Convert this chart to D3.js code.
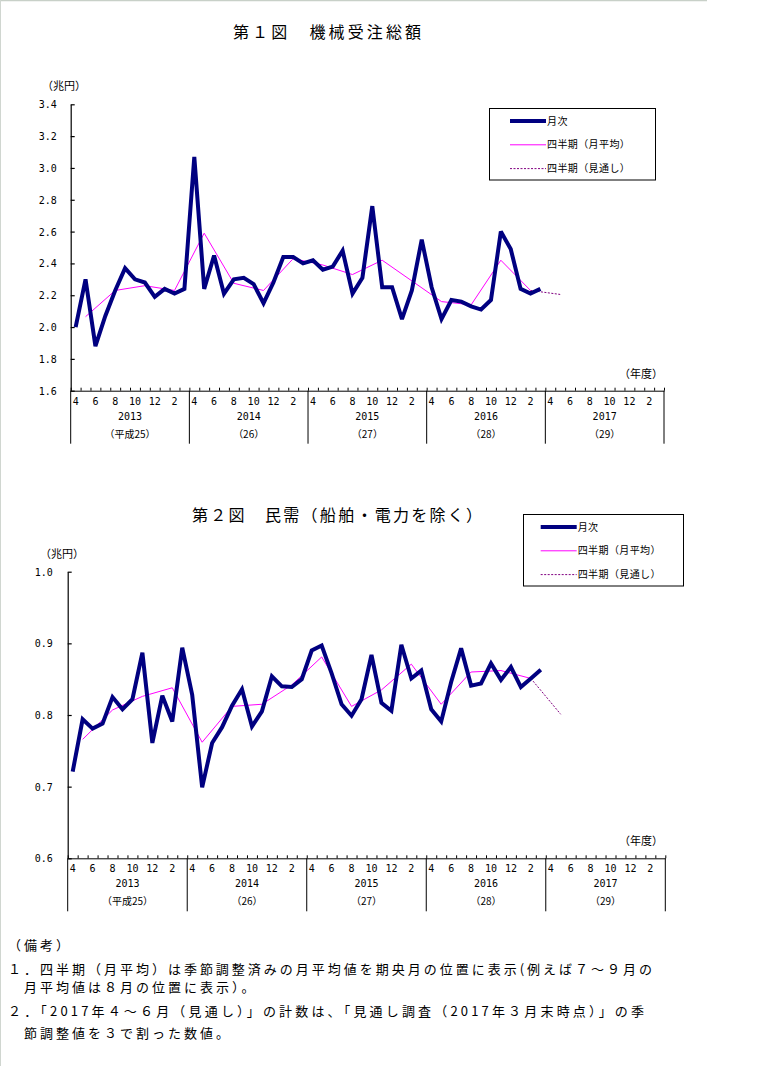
<!DOCTYPE html>
<html><head><meta charset="utf-8">
<script src="https://cdn.jsdelivr.net/npm/d3@7/dist/d3.min.js"></script>
<style>
body{margin:0;background:#fff;}
svg{display:block;}
text{font-family:"Noto Sans CJK JP","Noto Sans",sans-serif;fill:#000;}
.num{font-family:"DejaVu Sans Mono","Liberation Mono",monospace;}
</style></head><body>
<svg id="c" width="782" height="1066"></svg>
<script>
// ---------------- data ----------------
const monthLabels = ["4","6","8","10","12","2"];
const monthLabelIdx = [0,2,4,6,8,10];
const fiscalYears = ["2013","2014","2015","2016","2017"];
const eraLabels = ["（平成25）","（26）","（27）","（28）","（29）"];

// Chart 1: 機械受注総額 (兆円), monthly Apr-2013 .. Mar-2017
const total_monthly = [2.00,2.30,1.88,2.07,2.23,2.37,2.30,2.28,2.19,2.24,2.21,2.24,
  3.07,2.24,2.45,2.21,2.30,2.31,2.27,2.15,2.28,2.44,2.44,2.40,
  2.42,2.36,2.38,2.48,2.21,2.31,2.76,2.25,2.25,2.05,2.23,2.55,
  2.25,2.05,2.17,2.16,2.13,2.11,2.17,2.60,2.49,2.24,2.21,2.24];
// quarterly (monthly average), plotted at central month index 1,4,7,...
const total_quarterly = [2.065,2.23,2.26,2.23,2.59,2.275,2.23,2.43,2.39,2.33,2.42,2.29,2.16,2.14,2.42,2.23];
const total_forecast = [2.23,2.205];   // Jan-Mar 2017 avg -> Apr-Jun 2017 forecast
const total_ticks = [1.6,1.8,2.0,2.2,2.4,2.6,2.8,3.0,3.2,3.4];

// Chart 2: 民需（船舶・電力を除く） (兆円)
const private_monthly = [0.721,0.794,0.781,0.788,0.825,0.808,0.822,0.887,0.761,0.827,0.791,0.894,
  0.828,0.699,0.761,0.783,0.813,0.836,0.784,0.805,0.854,0.840,0.839,0.850,
  0.890,0.897,0.858,0.815,0.799,0.822,0.884,0.817,0.806,0.898,0.851,0.862,
  0.808,0.791,0.846,0.893,0.841,0.844,0.872,0.849,0.867,0.839,0.851,0.863];
const private_quarterly = [0.766,0.807,0.826,0.838,0.762,0.812,0.815,0.842,0.881,0.812,0.835,0.871,0.815,0.860,0.862,0.851];
const private_forecast = [0.851,0.801];
const private_ticks = [0.6,0.7,0.8,0.9,1.0];

const legendLabels = ["月次","四半期（月平均）","四半期（見通し）"];

// ---------------- drawing ----------------
const svg = d3.select("#c");
svg.append("rect").attr("width",782).attr("height",1066).attr("fill","#fff");
svg.append("line").attr("x1",0).attr("x2",707).attr("y1",0.5).attr("y2",0.5).attr("stroke","#c8d0c8").attr("stroke-width",1.5);
svg.append("line").attr("x1",0.5).attr("x2",0.5).attr("y1",0).attr("y2",1066).attr("stroke","#d0d6d0").attr("stroke-width",1);

function drawChart(cfg){
  const g = svg.append("g");
  const x = d3.scaleLinear().domain([0,60]).range([cfg.x0,cfg.x1]);
  const y = d3.scaleLinear().domain([cfg.ticks[0],cfg.ticks[cfg.ticks.length-1]]).range([cfg.yb,cfg.yt]);

  // y axis
  const ya = d3.axisLeft(y).tickValues(cfg.ticks).tickFormat(d3.format(".1f"))
    .tickSizeInner(-4).tickSizeOuter(0).tickPadding(cfg.tickPad);
  const yg = g.append("g").attr("transform",`translate(${cfg.x0},0)`).call(ya);
  yg.selectAll("path,line").attr("stroke","#000").attr("stroke-width",1.2);
  yg.selectAll("text").attr("class","num").style("font-size","10px").attr("dy","0.35em");

  // x axis: month ticks upward
  const xa = d3.axisBottom(x).tickValues(d3.range(0,61)).tickFormat("")
    .tickSizeInner(-3).tickSizeOuter(0);
  const xg = g.append("g").attr("transform",`translate(0,${cfg.yb})`).call(xa);
  xg.selectAll("path,line").attr("stroke","#000").attr("stroke-width",1);

  // year dividers
  g.selectAll(".div").data(d3.range(0,61,12)).join("line")
    .attr("x1",d=>x(d)).attr("x2",d=>x(d)).attr("y1",cfg.yb).attr("y2",cfg.yb+53)
    .attr("stroke","#000").attr("stroke-width",1);

  // month labels
  const ml = [];
  fiscalYears.forEach((fy,k)=>monthLabelIdx.forEach((m,j)=>ml.push({i:k*12+m,t:monthLabels[j]})));
  g.selectAll(".ml").data(ml).join("text").attr("class","num")
    .attr("x",d=>x(d.i+0.5)).attr("y",cfg.yb+14).attr("text-anchor","middle")
    .style("font-size","10px").text(d=>d.t);
  g.selectAll(".yl").data(fiscalYears).join("text").attr("class","num")
    .attr("x",(d,k)=>x(k*12+6)).attr("y",cfg.yb+29).attr("text-anchor","middle")
    .style("font-size","10px").text(d=>d);
  g.selectAll(".el").data(eraLabels).join("text")
    .attr("x",(d,k)=>x(k*12+6)).attr("y",cfg.yb+47).attr("text-anchor","middle")
    .style("font-size","10px").text(d=>d);

  // unit labels
  g.append("text").attr("x",cfg.unitX).attr("y",cfg.yt-14).style("font-size","11px").text("（兆円）");
  g.append("text").attr("x",663).attr("y",cfg.yb-13).attr("text-anchor","end").style("font-size","11px").text("（年度）");

  // quarterly line
  const qline = d3.line().x(d=>x(d.i+0.5)).y(d=>y(d.v));
  g.append("path").datum(cfg.quarterly.map((v,k)=>({i:1+3*k,v})))
    .attr("d",qline).attr("fill","none").attr("stroke","#ff00ff").attr("stroke-width",1);
  g.append("path").datum(cfg.forecast.map((v,k)=>({i:46+3*k,v})))
    .attr("d",qline).attr("fill","none").attr("stroke","#800080").attr("stroke-width",1).attr("stroke-dasharray","2,1.5");
  // monthly
  g.append("path").datum(cfg.monthly.map((v,i)=>({i,v})))
    .attr("d",qline).attr("fill","none").attr("stroke","#000080").attr("stroke-width",4).attr("stroke-linejoin","miter").attr("stroke-miterlimit",3);

  // legend
  const L = cfg.legend;
  const lg = g.append("g");
  lg.append("rect").attr("x",L.x).attr("y",L.y).attr("width",L.w).attr("height",L.h)
    .attr("fill","#fff").attr("stroke","#000").attr("stroke-width",1);
  const styles = [{c:"#000080",w:4,d:null},{c:"#ff00ff",w:1,d:null},{c:"#800080",w:1,d:"2,1.5"}];
  legendLabels.forEach((t,k)=>{
    const yy = L.y+12.5+k*23.8;
    lg.append("line").attr("x1",L.lx).attr("x2",L.lx+36).attr("y1",yy).attr("y2",yy)
      .attr("stroke",styles[k].c).attr("stroke-width",styles[k].w).attr("stroke-dasharray",styles[k].d);
    lg.append("text").attr("x",L.lx+37).attr("y",yy).attr("dy","0.36em").style("font-size","10px")
      .style("letter-spacing","0.4px").text(t);
  });

  // title
  svg.append("text").attr("x",cfg.title.x).attr("y",cfg.title.y).style("font-size","16px")
    .attr("textLength",cfg.title.len).attr("lengthAdjust","spacing").text(cfg.title.t);
}

drawChart({x0:70.7,x1:664,yt:104.3,yb:390.7,ticks:total_ticks,tickPad:14,unitX:42,
  monthly:total_monthly,quarterly:total_quarterly,forecast:total_forecast,
  legend:{x:489.5,y:108.5,w:166,h:71.5,lx:510},
  title:{x:233,y:38,len:188,t:"第１図　機械受注総額"}});
drawChart({x0:67.7,x1:665.3,yt:571.7,yb:858.3,ticks:private_ticks,tickPad:15,unitX:40,
  monthly:private_monthly,quarterly:private_quarterly,forecast:private_forecast,
  legend:{x:523.5,y:514.5,w:160,h:71.5,lx:540.7},
  title:{x:192,y:521,len:290,t:"第２図　民需（船舶・電力を除く）"}});

// notes
const notes = [
  {x:8,y:950,t:"（備考）"},
  {x:8,y:974,t:"１．四半期（月平均）は季節調整済みの月平均値を期央月の位置に表示(例えば７～９月の",len:644},
  {x:8,y:992,t:"　月平均値は８月の位置に表示）。"},
  {x:8,y:1016,t:"２．「2017年４～６月（見通し）」の計数は、「見通し調査（2017年３月末時点）」の季",len:636},
  {x:8,y:1038,t:"　節調整値を３で割った数値。"}
];
notes.forEach(n=>{
  const t = svg.append("text").attr("x",n.x).attr("y",n.y).style("font-size","13px").style("letter-spacing","3px").text(n.t);
  if(n.len) t.style("letter-spacing",null).attr("textLength",n.len).attr("lengthAdjust","spacing");
});
</script>
</body></html>
